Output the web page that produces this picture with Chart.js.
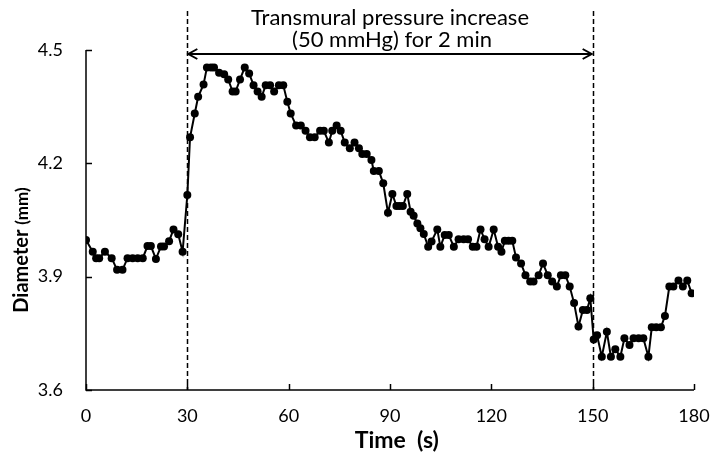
<!DOCTYPE html>
<html>
<head>
<meta charset="utf-8">
<script src="https://cdn.jsdelivr.net/npm/chart.js@4/dist/chart.umd.min.js"></script>
<style>
  html, body { margin: 0; padding: 0; background: #fff; }
  #wrap { width: 712px; height: 461px; }
</style>
</head>
<body>
<div id="wrap"><canvas id="c" width="712" height="461"></canvas></div>
<script>
// Vessel diameter recording (mm) against time (s)
const timeSec = [
  0, 2.0, 3.0, 3.9, 5.6, 7.6, 9.2, 10.8, 12.3, 13.8, 15.3, 16.8, 18.2, 19.2, 20.7, 22.2, 23.1, 24.6, 25.9, 27.3, 28.6,
  30.0, 30.8, 32.2, 33.2, 34.8, 35.8, 37.0, 37.9, 39.4, 40.9, 42.1, 43.4, 44.3, 45.6, 47.0, 48.3, 49.6, 50.8, 52.0,
  53.2, 54.5, 55.7, 57.1, 58.4, 59.6, 60.6, 62.2, 63.6, 65.0, 66.3, 67.7, 69.3, 70.4, 71.9, 72.9, 74.2, 75.4, 76.6,
  78.1, 79.5, 80.8, 81.8, 83.1, 84.5, 85.2, 86.7, 88.0, 89.4, 90.7, 91.9, 92.8, 93.8, 95.1, 96.1, 97.0, 98.1, 99.0,
  100.0, 101.3, 102.3, 104.0, 104.9, 106.2, 107.4, 108.9, 110.3, 111.8, 113.1, 114.5, 115.6, 116.8, 118.0, 119.2,
  120.7, 122.0, 123.0, 124.0, 125.1, 126.2, 127.3, 128.8, 130.1, 131.5, 132.5, 134.0, 135.3, 136.7, 138.0, 139.4,
  140.6, 141.9, 143.2, 144.5, 145.8, 147.1, 148.3, 149.3, 150.3, 151.3, 152.7, 154.2, 155.4, 156.7, 158.2, 159.4,
  160.9, 162.1, 163.6, 165.0, 166.5, 167.5, 168.8, 170.2, 171.4, 172.7, 173.9, 175.4, 176.7, 178.0, 179.3
];
const diameterMm = [
  3.997, 3.966, 3.949, 3.949, 3.966, 3.949, 3.918, 3.918, 3.949, 3.949, 3.949, 3.949, 3.981, 3.981, 3.947, 3.980, 3.980, 3.994, 4.025, 4.012, 3.966,
  4.116, 4.269, 4.332, 4.376, 4.409, 4.454, 4.454, 4.454, 4.440, 4.436, 4.422, 4.390, 4.390, 4.422, 4.454, 4.438, 4.407, 4.390, 4.376,
  4.407, 4.407, 4.390, 4.407, 4.407, 4.363, 4.332, 4.300, 4.300, 4.286, 4.269, 4.269, 4.286, 4.286, 4.255, 4.286, 4.300, 4.286, 4.255,
  4.240, 4.255, 4.240, 4.225, 4.225, 4.209, 4.180, 4.180, 4.147, 4.069, 4.119, 4.087, 4.087, 4.087, 4.119, 4.072, 4.061, 4.041, 4.028,
  4.013, 3.979, 3.993, 4.025, 3.979, 4.010, 4.010, 3.979, 3.999, 3.999, 3.999, 3.979, 3.979, 4.025, 3.999, 3.979,
  4.025, 3.979, 3.966, 3.995, 3.995, 3.995, 3.951, 3.935, 3.904, 3.887, 3.887, 3.904, 3.935, 3.904, 3.887, 3.874,
  3.904, 3.904, 3.874, 3.830, 3.768, 3.812, 3.812, 3.843, 3.734, 3.745, 3.688, 3.754, 3.688, 3.708, 3.688, 3.737,
  3.719, 3.737, 3.737, 3.737, 3.688, 3.766, 3.766, 3.766, 3.796, 3.874, 3.874, 3.890, 3.874, 3.890, 3.856
];
const xTicks = [0, 30, 60, 90, 120, 150, 180];
const yTicks = [3.6, 3.9, 4.2, 4.5];
const pressureWindow = [30, 150];
const pressureNote = ['Transmural pressure increase', '(50 mmHg) for 2 min'];
const xTitle = 'Time  (s)';
const yTitleMain = 'Diameter ';
const yTitleUnit = '(mm)';

const FONT = 'Lato, "Open Sans", sans-serif';

const points = timeSec.map((t, i) => ({ x: t, y: diameterMm[i] }));

// Axes, inward tick marks, pressure window markers and titles
const decorations = {
  id: 'decorations',
  beforeDatasetsDraw(chart) {
    const { ctx, chartArea: a, scales: { x, y } } = chart;
    ctx.save();
    ctx.strokeStyle = '#000';
    ctx.lineWidth = 1.5;
    // dashed markers at the start and end of the pressure step
    ctx.setLineDash([5, 3]);
    pressureWindow.forEach(t => {
      const px = Math.round(x.getPixelForValue(t)) + 0.5;
      ctx.beginPath();
      ctx.moveTo(px, 11);
      ctx.lineTo(px, a.bottom);
      ctx.stroke();
    });
    ctx.setLineDash([]);
    // axis lines
    ctx.beginPath();
    ctx.moveTo(a.left, a.top);
    ctx.lineTo(a.left, a.bottom);
    ctx.lineTo(a.right, a.bottom);
    ctx.stroke();
    // inward ticks
    xTicks.forEach(v => {
      const px = Math.round(x.getPixelForValue(v)) + 0.5;
      ctx.beginPath();
      ctx.moveTo(px, a.bottom);
      ctx.lineTo(px, a.bottom - 6);
      ctx.stroke();
    });
    yTicks.forEach(v => {
      const py = Math.round(y.getPixelForValue(v)) + 0.5;
      ctx.beginPath();
      ctx.moveTo(a.left, py);
      ctx.lineTo(a.left + 6, py);
      ctx.stroke();
    });
    // double-headed arrow spanning the pressure window
    const ax0 = x.getPixelForValue(pressureWindow[0]);
    const ax1 = x.getPixelForValue(pressureWindow[1]);
    const ay = 54;
    ctx.lineWidth = 2;
    ctx.beginPath();
    ctx.moveTo(ax0 + 1, ay);
    ctx.lineTo(ax1 - 1, ay);
    ctx.moveTo(ax0 + 10, ay - 5);
    ctx.lineTo(ax0 + 1, ay);
    ctx.lineTo(ax0 + 10, ay + 5);
    ctx.moveTo(ax1 - 10, ay - 5);
    ctx.lineTo(ax1 - 1, ay);
    ctx.lineTo(ax1 - 10, ay + 5);
    ctx.stroke();
    ctx.restore();
  },
  afterDraw(chart) {
    const { ctx, scales: { x } } = chart;
    ctx.save();
    ctx.fillStyle = '#000';
    ctx.textAlign = 'center';
    ctx.textBaseline = 'alphabetic';
    // note above the arrow
    const cx = (x.getPixelForValue(pressureWindow[0]) + x.getPixelForValue(pressureWindow[1])) / 2;
    ctx.font = '22px ' + FONT;
    ctx.fillText(pressureNote[0], cx, 25);
    ctx.fillText(pressureNote[1], cx + 2, 47);
    // x title
    ctx.textBaseline = 'middle';
    ctx.font = 'bold 23px ' + FONT;
    ctx.fillText(xTitle, x.getPixelForValue(92), 441);
    // y title, rotated
    ctx.translate(22, 250);
    ctx.rotate(-Math.PI / 2);
    ctx.font = 'bold 20px ' + FONT;
    const w1 = ctx.measureText(yTitleMain).width;
    ctx.font = 'bold 17px ' + FONT;
    const w2 = ctx.measureText(yTitleUnit).width;
    const start = -(w1 + w2) / 2;
    ctx.textAlign = 'left';
    ctx.font = 'bold 20px ' + FONT;
    ctx.fillText(yTitleMain, start, 0);
    ctx.font = 'bold 17px ' + FONT;
    ctx.fillText(yTitleUnit, start + w1, 1);
    ctx.restore();
  }
};

new Chart(document.getElementById('c'), {
  type: 'scatter',
  data: {
    datasets: [{
      data: points,
      showLine: true,
      borderColor: '#000',
      backgroundColor: '#000',
      borderWidth: 2,
      pointRadius: 4,
      pointBorderWidth: 0,
      tension: 0
    }]
  },
  options: {
    responsive: false,
    animation: false,
    events: [],
    layout: { padding: { top: 50, right: 0, left: 0, bottom: 0 } },
    plugins: { legend: { display: false }, tooltip: { enabled: false } },
    scales: {
      x: {
        type: 'linear',
        min: 0, max: 180,
        afterBuildTicks: s => { s.ticks = xTicks.map(v => ({ value: v })); },
        afterFit: s => { s.height = 71; s.paddingRight = 18; },
        grid: { display: false, drawTicks: false },
        border: { display: false },
        ticks: { color: '#000', font: { family: FONT, size: 18 }, padding: 15, maxRotation: 0 }
      },
      y: {
        min: 3.6, max: 4.5,
        afterBuildTicks: s => { s.ticks = yTicks.map(v => ({ value: v })); },
        afterFit: s => { s.width = 86; },
        grid: { display: false, drawTicks: false },
        border: { display: false },
        ticks: {
          color: '#000', font: { family: FONT, size: 18 }, padding: 23,
          callback: v => Number(v).toFixed(1)
        }
      }
    }
  },
  plugins: [decorations]
});
</script>
</body>
</html>
